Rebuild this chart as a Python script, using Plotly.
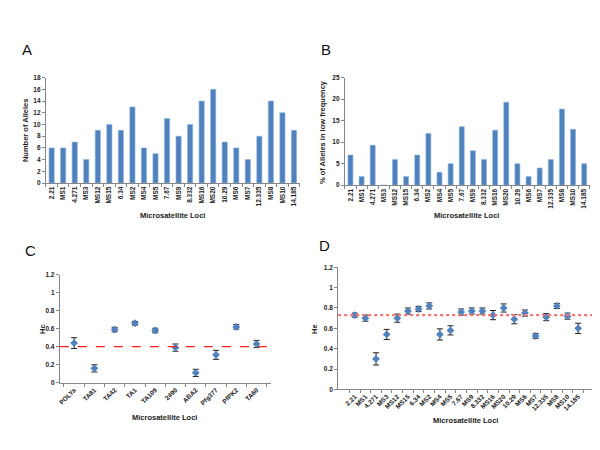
import plotly.graph_objects as go

loci_ab = ["2.21", "MS1", "4.271", "MS3", "MS12", "MS15", "6.34", "MS2", "MS4", "MS5", "7.67",
           "MS9", "8.332", "MS16", "MS20", "10.29", "MS6", "MS7", "12.335", "MS8", "MS10", "14.185"]
alleles = [6, 6, 7, 4, 9, 10, 9, 13, 6, 5, 11, 8, 10, 14, 16, 7, 6, 4, 8, 14, 12, 9]
low_freq_pct = [7, 2, 9.3, 0, 6, 2, 7, 12, 3, 5, 13.6, 8, 6, 12.8, 19.3, 5, 2, 4, 6, 17.7, 13, 5]

loci_c = ["POLYa", "TA81", "TA42", "TA1", "TA109", "2490", "ABA2", "Pfg377", "PfPK2", "TA60"]
hc = [0.44, 0.16, 0.59, 0.66, 0.58, 0.39, 0.11, 0.31, 0.62, 0.43]
hc_err = [0.06, 0.04, 0.025, 0.02, 0.025, 0.04, 0.04, 0.05, 0.025, 0.04]
hc_ref = 0.40

loci_d = loci_ab
he = [0.73, 0.70, 0.30, 0.54, 0.70, 0.77, 0.79, 0.82, 0.54, 0.58, 0.76,
      0.77, 0.77, 0.73, 0.80, 0.69, 0.75, 0.525, 0.71, 0.82, 0.72, 0.60]
he_err = [0.02, 0.03, 0.06, 0.05, 0.04, 0.03, 0.025, 0.03, 0.055, 0.045, 0.03,
          0.03, 0.03, 0.045, 0.04, 0.045, 0.03, 0.025, 0.035, 0.025, 0.03, 0.05]
he_ref = 0.73

BLUE = "#4F81BD"
AX = "#868686"
FONT = "Liberation Sans"

fig = go.Figure()
fig.add_trace(go.Bar(x=loci_ab, y=alleles, marker=dict(color=BLUE, line=dict(color="#8EB4E3", width=0.6)),
                     xaxis="x", yaxis="y", showlegend=False))
fig.add_trace(go.Bar(x=loci_ab, y=low_freq_pct, marker=dict(color=BLUE, line=dict(color="#8EB4E3", width=0.6)),
                     xaxis="x2", yaxis="y2", showlegend=False))
fig.add_trace(go.Scatter(x=loci_c, y=hc, mode="markers",
                         marker=dict(symbol="diamond", size=6, color=BLUE),
                         error_y=dict(type="data", array=hc_err, color="#222222", thickness=1, width=3),
                         xaxis="x3", yaxis="y3", showlegend=False))
fig.add_trace(go.Scatter(x=loci_d, y=he, mode="markers",
                         marker=dict(symbol="diamond", size=6, color=BLUE),
                         error_y=dict(type="data", array=he_err, color="#222222", thickness=1, width=3),
                         xaxis="x4", yaxis="y4", showlegend=False))

tickfont = dict(family=FONT, size=6.5, color="#222222", weight="bold")


def xax(domain, anchor, angle):
    return dict(domain=domain, anchor=anchor, type="category", showline=True, linecolor=AX, linewidth=1,
                ticks="outside", ticklen=3, tickcolor=AX, tickson="boundaries", tickangle=angle,
                tickfont=tickfont, showgrid=False, zeroline=False, fixedrange=True)


def yax(domain, anchor, rng, dtick):
    return dict(domain=domain, anchor=anchor, range=rng, dtick=dtick, showline=True, linecolor=AX, linewidth=1,
                ticks="outside", ticklen=3, tickcolor=AX, tickfont=tickfont, showgrid=False,
                zeroline=False, fixedrange=True)


fig.update_layout(
    width=600, height=450, margin=dict(l=0, r=0, t=0, b=0),
    paper_bgcolor="white", plot_bgcolor="white", bargap=0.55,
    xaxis=xax([0.06, 0.4845], "y", -90),
    yaxis=yax([0.614, 0.8518], "x", [0, 18], 2),
    xaxis2=xax([0.56, 0.9695], "y2", -90),
    yaxis2=yax([0.609, 0.8518], "x2", [0, 25], 5),
    xaxis3=xax([0.0833, 0.4362], "y3", -45),
    yaxis3=yax([0.163, 0.4073], "x3", [0, 1.2], 0.2),
    xaxis4=xax([0.5488, 0.9778], "y4", -45),
    yaxis4=yax([0.148, 0.4238], "x4", [0, 1.2], 0.2),
)

fig.add_shape(type="line", xref="x3 domain", yref="y3", x0=0, x1=1, y0=hc_ref, y1=hc_ref,
              line=dict(color="#FF2020", width=1.3, dash="dash"))
fig.add_shape(type="line", xref="x4 domain", yref="y4", x0=0, x1=1, y0=he_ref, y1=he_ref,
              line=dict(color="#FF7070", width=2.2, dash="dot"))

titlefont = dict(family=FONT, size=7.5, color="#222222", weight="bold")


def ann(text, x, y, font, angle=0):
    fig.add_annotation(text=text, x=x / 600, y=1 - y / 450, xref="paper", yref="paper",
                       showarrow=False, font=font, textangle=angle, xanchor="center", yanchor="middle")


letter = dict(family=FONT, size=15, color="#111111")
ann("A", 17, 38, letter)
ann("B", 317, 38, letter)
ann("C", 21, 242, letter)
ann("D", 316, 237, letter)

ann("Microsatellite Loci", 163, 207, titlefont)
ann("Microsatellite Loci", 458, 207, titlefont)
ann("Microsatellite Loci", 155, 412, titlefont)
ann("Microsatellite Loci", 457, 415, titlefont)

ann("Number of Alleles", 15, 120, titlefont, -90)
ann("% of Alleles in low frequency", 313, 122, titlefont, -90)
ann("Hc", 33, 322, titlefont, -90)
ann("He", 306, 322, titlefont, -90)

fig.write_html("out.html")
